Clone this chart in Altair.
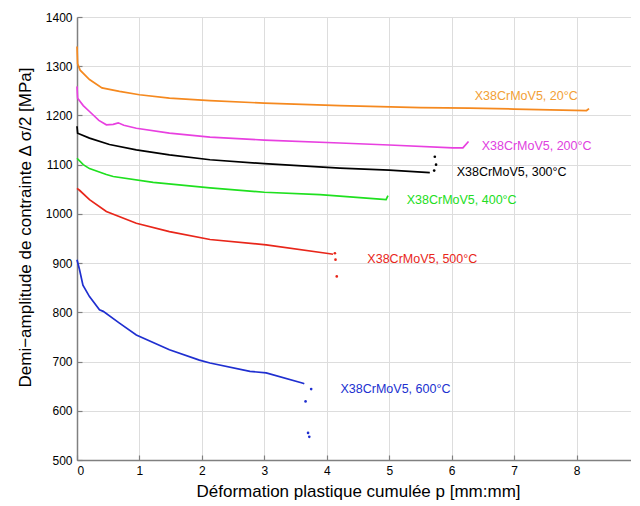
import altair as alt
import pandas as pd

series_names = ["20°C", "200°C", "300°C", "400°C", "500°C", "600°C"]
colors = ["#F5891F", "#E840E0", "#000000", "#1FE01F", "#E8261A", "#1F2FD0"]
label_colors = ["#F2A035", "#E040E0", "#000000", "#22DD22", "#E8261A", "#2030D0"]

x_ticks = [0, 1, 2, 3, 4, 5, 6, 7, 8, 9]
y_ticks = [500, 600, 700, 800, 900, 1000, 1100, 1200, 1300, 1400]

# Curves (p, half stress amplitude)
p_20 = [0, 0.01, 0.05, 0.2, 0.4, 0.68, 1.0, 1.48, 2.13, 3.0, 4.21, 5.5, 6.29, 7.0, 8.16, 8.2]
s_20 = [1340, 1305, 1292, 1273, 1256, 1249, 1242, 1235, 1230, 1225, 1220, 1216, 1215, 1213, 1210, 1214]

p_200 = [0, 0.01, 0.1, 0.2, 0.35, 0.47, 0.58, 0.66, 0.75, 0.95, 1.48, 2.13, 3.0, 4.21, 5.0, 6.02, 6.18, 6.27]
s_200 = [1259, 1235, 1220, 1208, 1190, 1181, 1182, 1185, 1180, 1174, 1164, 1156, 1150, 1144, 1140, 1134, 1134, 1147]

p_300 = [0, 0.01, 0.2, 0.52, 0.95, 1.48, 2.13, 3.0, 4.21, 5.0, 5.65]
s_300 = [1178, 1164, 1154, 1141, 1130, 1120, 1110, 1102, 1093, 1089, 1084]

p_400 = [0, 0.1, 0.2, 0.47, 0.58, 1.22, 2.13, 3.0, 3.89, 4.85, 4.95, 4.98]
s_400 = [1113, 1100, 1092, 1080, 1076, 1064, 1053, 1044, 1039, 1030, 1029, 1037]

p_500 = [0, 0.04, 0.2, 0.47, 0.95, 1.48, 2.13, 3.03, 4.05, 4.1]
s_500 = [1052, 1048, 1029, 1005, 981, 964, 948, 937, 919, 918]

p_600 = [0, 0.04, 0.095, 0.2, 0.36, 0.42, 0.68, 0.95, 1.48, 1.96, 2.13, 2.77, 3.03, 3.62, 3.64]
s_600 = [907, 887, 855, 832, 805, 802, 778, 754, 724, 703, 697, 680, 677, 656, 655]

# Scattered end points
tail_series = ["300°C", "300°C", "300°C", "500°C", "500°C", "500°C", "600°C", "600°C", "600°C", "600°C"]
tail_p = [5.73, 5.75, 5.72, 4.13, 4.14, 4.16, 3.75, 3.66, 3.70, 3.72]
tail_s = [1116, 1100, 1088, 920, 907, 873, 644, 619, 555, 547]

# Curve labels
label_text = ["X38CrMoV5, 20°C", "X38CrMoV5, 200°C", "X38CrMoV5, 300°C",
              "X38CrMoV5, 400°C", "X38CrMoV5, 500°C", "X38CrMoV5, 600°C"]
label_p = [6.37, 6.48, 6.08, 5.28, 4.65, 4.22]
label_s = [1240, 1137, 1085, 1029, 908, 644]

rows = []
for name, ps, ss in zip(series_names, [p_20, p_200, p_300, p_400, p_500, p_600],
                        [s_20, s_200, s_300, s_400, s_500, s_600]):
    for i, (p, s) in enumerate(zip(ps, ss)):
        rows.append({"series": name, "i": i, "p": p, "s": s})
df = pd.DataFrame(rows)
tails = pd.DataFrame({"series": tail_series, "p": tail_p, "s": tail_s})
labels = pd.DataFrame({"series": series_names, "text": label_text, "p": label_p, "s": label_s})

W, H = 562, 443
FONT = "Liberation Sans"
xscale = alt.Scale(domain=[0, 9], nice=False, zero=False)
yscale = alt.Scale(domain=[500, 1400], nice=False, zero=False)
cscale = alt.Scale(domain=series_names, range=colors)
lscale = alt.Scale(domain=series_names, range=label_colors)

lines = alt.Chart(df).mark_line(strokeWidth=1.7).encode(
    x=alt.X("p:Q", scale=xscale, axis=alt.Axis(
        orient="bottom", values=x_ticks, format="d", ticks=False, tickSize=0, labelPadding=5,
        labelFontSize=12, labelFont=FONT, labelColor="#000000",
        domainColor="#808080", domainWidth=1.5,
        title="Déformation plastique cumulée p [mm:mm]", titleFont=FONT,
        titleFontSize=17, titleFontWeight="normal", titleColor="#000000", titlePadding=7)),
    y=alt.Y("s:Q", scale=yscale, axis=alt.Axis(
        orient="left", values=y_ticks, format="d", ticks=False, tickSize=0, labelPadding=5,
        labelFontSize=12, labelFont=FONT, labelColor="#000000",
        domainColor="#808080", domainWidth=1.5,
        title="Demi−amplitude de contrainte Δ σ/2 [MPa]", titleFont=FONT,
        titleFontSize=17, titleFontWeight="normal", titleColor="#000000",
        titlePadding=11, titleY=210)),
    color=alt.Color("series:N", scale=cscale, legend=None),
    detail="series:N",
    order="i:Q",
)

pts = alt.Chart(tails).mark_circle(size=7, opacity=1).encode(
    x=alt.X("p:Q", scale=xscale, axis=alt.Axis(
        orient="top", offset=-H, values=x_ticks, labels=False, domain=False,
        ticks=True, tickSize=5, tickColor="#808080", tickWidth=1.2, title=None)),
    y=alt.Y("s:Q", scale=yscale, axis=alt.Axis(
        orient="right", offset=-W, values=y_ticks, labels=False, domain=False,
        ticks=True, tickSize=5, tickColor="#808080", tickWidth=1.2, title=None)),
    color=alt.Color("series:N", scale=cscale, legend=None),
)

texts = alt.Chart(labels).mark_text(align="left", baseline="middle", fontSize=12.5, font=FONT).encode(
    x=alt.X("p:Q", scale=xscale, axis=None),
    y=alt.Y("s:Q", scale=yscale, axis=None),
    text="text:N",
    color=alt.Color("series:N", scale=lscale, legend=None),
)

chart = alt.layer(lines, pts, texts).resolve_axis(
    x="independent", y="independent"
).resolve_scale(color="independent").properties(
    width=W, height=H,
    autosize=alt.AutoSizeParams(type="none"),
    padding={"left": 69, "top": 9, "right": -8, "bottom": 44},
).configure_view(stroke=None).configure_axis(grid=False).configure(background="white")

chart.save("out.html", embed_options={"renderer": "svg", "actions": False})
